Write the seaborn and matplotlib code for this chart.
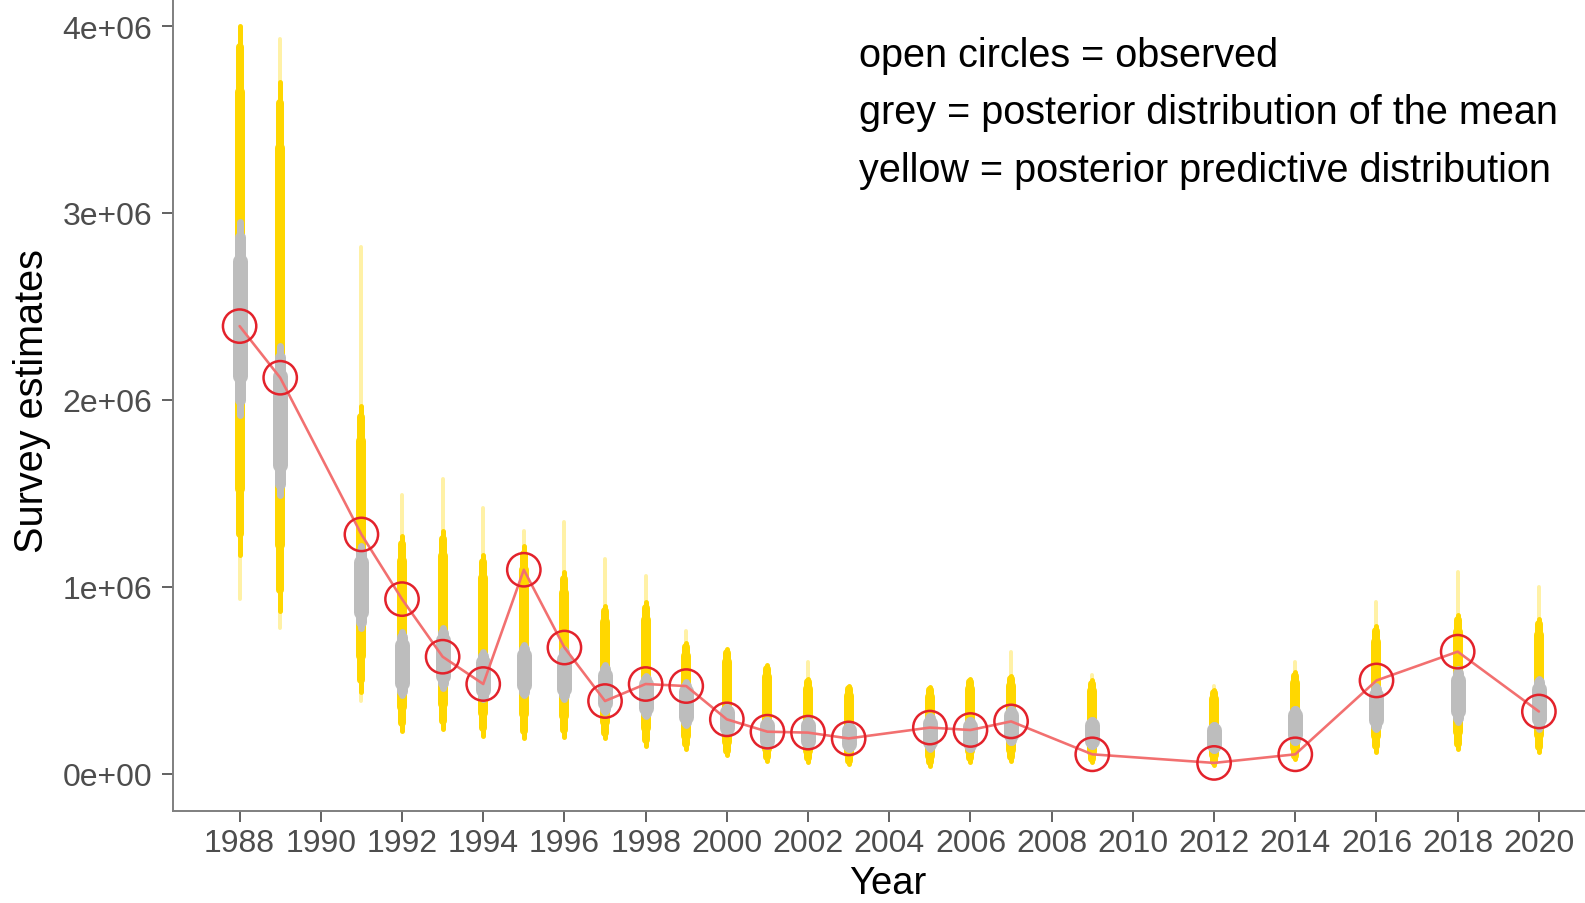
import matplotlib
matplotlib.use("Agg")
import matplotlib.pyplot as plt
import pandas as pd
import seaborn as sns

# Survey years and observed survey estimates
years = [1988, 1989, 1991, 1992, 1993, 1994, 1995, 1996, 1997, 1998, 1999, 2000,
         2001, 2002, 2003, 2005, 2006, 2007, 2009, 2012, 2014, 2016, 2018, 2020]
observed = [2.395e6, 2.119e6, 1.281e6, 0.935e6, 0.627e6, 0.481e6, 1.092e6, 0.676e6,
            0.390e6, 0.481e6, 0.470e6, 0.292e6, 0.226e6, 0.221e6, 0.190e6, 0.248e6,
            0.235e6, 0.281e6, 0.105e6, 0.059e6, 0.105e6, 0.500e6, 0.654e6, 0.334e6]

# Posterior predictive distribution: sparse tails and dense core
pred_tail_hi = [4.00e6, 3.93e6, 2.82e6, 1.49e6, 1.58e6, 1.42e6, 1.30e6, 1.35e6,
                1.15e6, 1.06e6, 0.765e6, 0.67e6, 0.58e6, 0.60e6, 0.47e6, 0.465e6,
                0.51e6, 0.65e6, 0.53e6, 0.47e6, 0.60e6, 0.92e6, 1.08e6, 1.00e6]
pred_hi = [4.00e6, 3.70e6, 1.97e6, 1.27e6, 1.30e6, 1.17e6, 1.22e6, 1.08e6,
           0.90e6, 0.92e6, 0.70e6, 0.67e6, 0.58e6, 0.51e6, 0.47e6, 0.465e6,
           0.51e6, 0.525e6, 0.50e6, 0.45e6, 0.545e6, 0.79e6, 0.85e6, 0.83e6]
pred_lo = [1.17e6, 0.87e6, 0.44e6, 0.23e6, 0.24e6, 0.205e6, 0.19e6, 0.20e6,
           0.19e6, 0.15e6, 0.135e6, 0.10e6, 0.07e6, 0.065e6, 0.055e6, 0.045e6,
           0.065e6, 0.07e6, 0.064e6, 0.05e6, 0.08e6, 0.12e6, 0.134e6, 0.117e6]
pred_tail_lo = [0.935e6, 0.78e6, 0.39e6, 0.23e6, 0.24e6, 0.205e6, 0.19e6, 0.20e6,
                0.19e6, 0.15e6, 0.135e6, 0.10e6, 0.07e6, 0.065e6, 0.055e6, 0.045e6,
                0.065e6, 0.07e6, 0.064e6, 0.05e6, 0.08e6, 0.12e6, 0.134e6, 0.117e6]

# Posterior distribution of the mean
mean_hi = [2.95e6, 2.29e6, 1.22e6, 0.76e6, 0.78e6, 0.65e6, 0.69e6, 0.67e6,
           0.58e6, 0.525e6, 0.49e6, 0.36e6, 0.29e6, 0.29e6, 0.26e6, 0.31e6,
           0.29e6, 0.35e6, 0.29e6, 0.26e6, 0.35e6, 0.47e6, 0.56e6, 0.51e6]
mean_lo = [1.92e6, 1.49e6, 0.78e6, 0.42e6, 0.46e6, 0.40e6, 0.42e6, 0.40e6,
           0.33e6, 0.31e6, 0.26e6, 0.22e6, 0.15e6, 0.15e6, 0.135e6, 0.135e6,
           0.135e6, 0.17e6, 0.15e6, 0.13e6, 0.17e6, 0.24e6, 0.28e6, 0.24e6]

year_ticks = list(range(1988, 2021, 2))
y_ticks = [0, 1e6, 2e6, 3e6, 4e6]
y_tick_labels = ["0e+00", "1e+06", "2e+06", "3e+06", "4e+06"]

legend_lines = ["open circles = observed",
                "grey = posterior distribution of the mean",
                "yellow = posterior predictive distribution"]

df = pd.DataFrame({
    "year": years, "observed": observed,
    "pred_tail_hi": pred_tail_hi, "pred_hi": pred_hi,
    "pred_lo": pred_lo, "pred_tail_lo": pred_tail_lo,
    "mean_hi": mean_hi, "mean_lo": mean_lo,
})

sns.set_style("ticks")
plt.rcParams["font.family"] = ["Liberation Sans", "DejaVu Sans"]

PX = 0.72  # points per pixel at 100 dpi
YELLOW = "#FFD700"
GREY = "#BDBDBD"

fig = plt.figure(figsize=(15.85, 9.04), dpi=100)
ax = fig.add_axes([0.1089, 0.1018, 0.903, 0.9097])


def spindle(lo, hi, tiers, color, zorder):
    """Draw a tapered vertical band: each tier is (fraction of range, width in px)."""
    mid = (lo + hi) / 2
    half = (hi - lo) / 2
    for frac, width in tiers:
        ax.vlines(df["year"], mid - half * frac, mid + half * frac, colors=color,
                  linewidth=width * PX, capstyle="round", zorder=zorder)


# predictive distribution: faint tails, then the dense core
ax.vlines(df["year"], df["pred_hi"], df["pred_tail_hi"], colors=YELLOW, alpha=0.35,
          linewidth=4 * PX, capstyle="round", zorder=1)
ax.vlines(df["year"], df["pred_tail_lo"], df["pred_lo"], colors=YELLOW, alpha=0.35,
          linewidth=4 * PX, capstyle="round", zorder=1)
spindle(df["pred_lo"], df["pred_hi"], [(1.0, 5), (0.92, 8), (0.75, 10)], YELLOW, 2)

# posterior of the mean: tapered grey band
spindle(df["mean_lo"], df["mean_hi"], [(1.0, 7), (0.85, 11), (0.6, 15)], GREY, 3)

# observed series
sns.lineplot(data=df, x="year", y="observed", color="#F27070",
             linewidth=2.6 * PX, ax=ax, zorder=4)
sns.scatterplot(data=df, x="year", y="observed", s=24 ** 2, marker="o",
                facecolors="none", edgecolors="#E3222B", linewidth=1.8,
                ax=ax, zorder=5)

ax.set_xlim(1986.35, 2021.6)
ax.set_ylim(-0.198e6, 4.2e6)
ax.set_xticks(year_ticks)
ax.set_xticklabels([str(y) for y in year_ticks])
ax.set_yticks(y_ticks)
ax.set_yticklabels(y_tick_labels)

for side in ("top", "right"):
    ax.spines[side].set_visible(False)
for side in ("left", "bottom"):
    ax.spines[side].set_color("#7F7F7F")
    ax.spines[side].set_linewidth(1.4)

ax.tick_params(axis="both", length=8, width=1.3, color="#555555",
               labelsize=23, labelcolor="#4D4D4D")
ax.tick_params(axis="x", pad=4)
ax.tick_params(axis="y", pad=6.5)

ax.set_xlabel("Year", fontsize=27.5, color="black", labelpad=5)
ax.set_ylabel("Survey estimates", fontsize=28.5, color="black", labelpad=8.5)

baselines_px = [66.7, 124.4, 182.0]
for line, base in zip(legend_lines, baselines_px):
    fig.text(859 / 1585, 1 - base / 904, line, fontsize=28.5,
             color="black", ha="left", va="baseline")

fig.savefig("out.png", dpi=100)
